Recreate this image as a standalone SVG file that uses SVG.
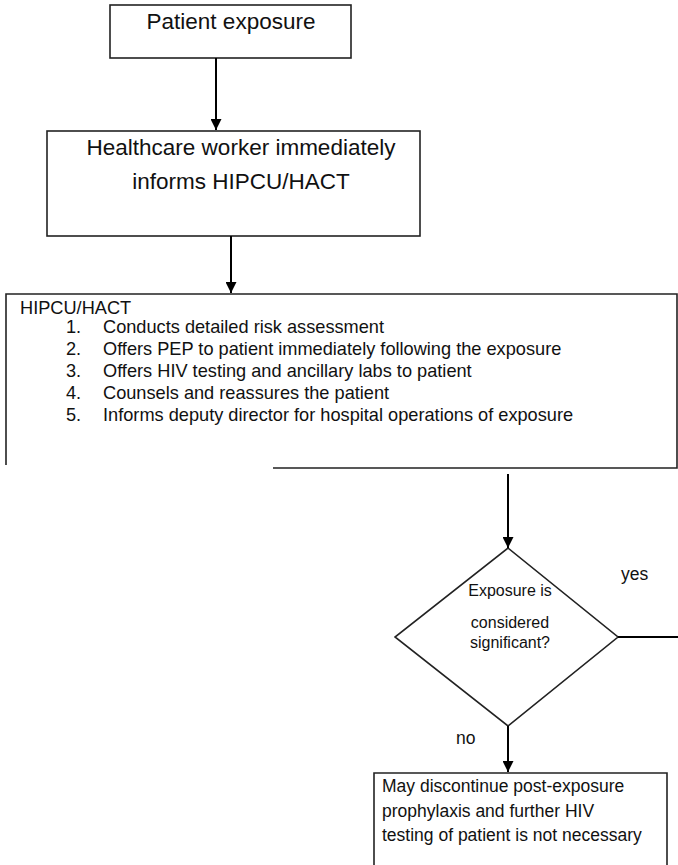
<svg xmlns="http://www.w3.org/2000/svg" width="678" height="865" viewBox="0 0 678 865">
<defs>
<style>
.box{fill:none;stroke:#222;stroke-width:1.6}
.con{fill:none;stroke:#000;stroke-width:2}
text{font-family:"Liberation Sans",Arial,sans-serif;fill:#111}
.t20{font-size:22.5px}
.t16{font-size:18.2px}
.t17{font-size:17.5px}
.t14{font-size:16px}
</style>
<marker id="ah" viewBox="0 0 10 10" refX="10" refY="5" markerWidth="5.5" markerHeight="5.5" orient="auto" markerUnits="strokeWidth">
<path d="M0,0 L10,5 L0,10 Z" fill="#000"/>
</marker>
</defs>
<rect width="678" height="865" fill="#fff"/>
<g id="n1">
<rect class="box" x="110" y="5" width="241" height="53"/>
<text class="t20" x="231" y="29" text-anchor="middle">Patient exposure</text>
</g>
<g id="n2">
<rect class="box" x="47" y="131" width="373" height="105"/>
<text class="t20" x="241" y="155" text-anchor="middle">Healthcare worker immediately</text>
<text class="t20" x="241" y="189" text-anchor="middle">informs HIPCU/HACT</text>
</g>
<g id="n3">
<path class="box" d="M6,465 L6,294 L677,294 L677,468 L273,468"/>
<text class="t16" x="20" y="314">HIPCU/HACT</text>
<text class="t16" x="66" y="333">1.</text>
<text class="t16" x="103" y="333">Conducts detailed risk assessment</text>
<text class="t16" x="66" y="355">2.</text>
<text class="t16" x="103" y="355">Offers PEP to patient immediately following the exposure</text>
<text class="t16" x="66" y="377">3.</text>
<text class="t16" x="103" y="377">Offers HIV testing and ancillary labs to patient</text>
<text class="t16" x="66" y="399">4.</text>
<text class="t16" x="103" y="399">Counsels and reassures the patient</text>
<text class="t16" x="66" y="421">5.</text>
<text class="t16" x="103" y="421">Informs deputy director for hospital operations of exposure</text>
</g>
<g id="n4">
<path class="box" d="M508,548 L618,637 L508,726 L395,637 Z"/>
<text class="t14" x="510" y="596" text-anchor="middle">Exposure is</text>
<text class="t14" x="510" y="628" text-anchor="middle">considered</text>
<text class="t14" x="510" y="648" text-anchor="middle">significant?</text>
</g>
<g id="n5">
<path class="box" d="M374,865 L374,773 L667,773 L667,865"/>
<text class="t17" x="382" y="792">May discontinue post-exposure</text>
<text class="t17" x="382" y="817">prophylaxis and further HIV</text>
<text class="t17" x="382" y="841">testing of patient is not necessary</text>
</g>
<g id="connectors">
<line class="con" x1="216" y1="58" x2="216" y2="130" marker-end="url(#ah)"/>
<line class="con" x1="231" y1="236" x2="231" y2="293" marker-end="url(#ah)"/>
<line class="con" x1="508" y1="474" x2="508" y2="548" marker-end="url(#ah)"/>
<line class="con" x1="618" y1="637" x2="678" y2="637"/>
<line class="con" x1="508" y1="726" x2="508" y2="772" marker-end="url(#ah)"/>
<text class="t17" x="621" y="580">yes</text>
<text class="t17" x="456" y="744">no</text>
</g>
</svg>
